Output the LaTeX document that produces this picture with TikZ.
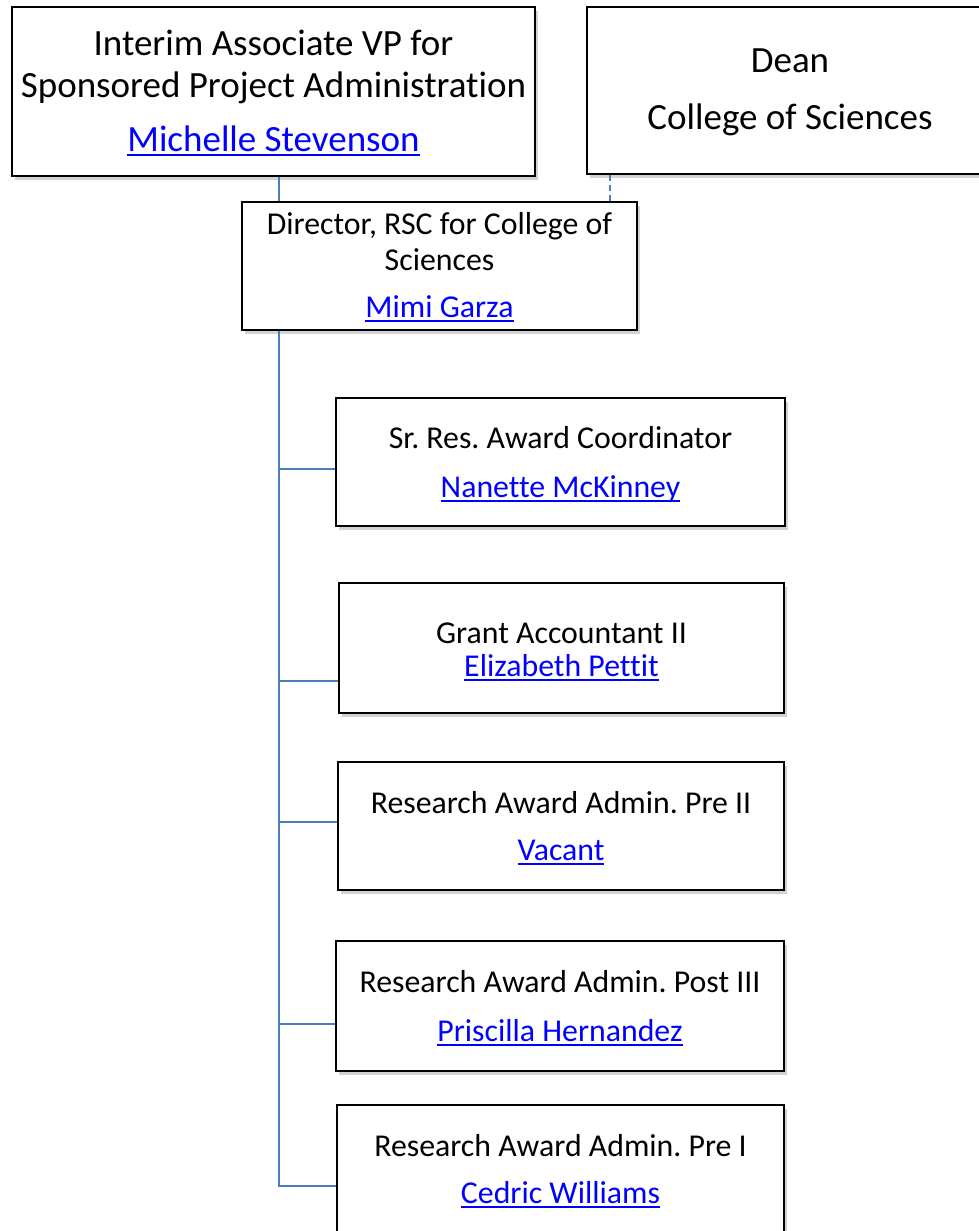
\documentclass[tikz,border=0pt]{standalone}
\usepackage{fontspec}
\setmainfont{Carlito}[Ligatures={NoCommon}]
\usetikzlibrary{shadows}
\frenchspacing
\definecolor{connblue}{RGB}{74,126,187}
\definecolor{linkblue}{RGB}{0,0,255}
\newsavebox{\lkbox}
\newcommand{\lk}[1]{\sbox{\lkbox}{\textcolor{linkblue}{#1}}\textcolor{linkblue}{\rlap{\rule[-4.6pt]{\wd\lkbox}{1.7pt}}}\usebox{\lkbox}}
\begin{document}
\begin{tikzpicture}[x=1pt,y=-1pt,
 orgbox/.style={draw=black, line width=1.6pt, fill=white, inner sep=0pt,
   drop shadow={shadow xshift=3pt,shadow yshift=-4pt,opacity=0.35}},
 big/.style={font=\fontsize{37}{44}\selectfont, anchor=base, inner sep=0pt},
 small/.style={font=\fontsize{31.8}{38}\selectfont, anchor=base, inner sep=0pt},
 conn/.style={draw=connblue, line width=2.2pt}]
\useasboundingbox[fill=white] (0,0) rectangle (978,1231);

% boxes
\node[orgbox, minimum width=523pt, minimum height=169pt] (vp) at (273.5,91.5) {};
\node[orgbox, minimum width=408pt, minimum height=167pt] (dean) at (791,90.5) {};
\node[orgbox, minimum width=395pt, minimum height=128pt] (dir) at (439.5,266) {};
\node[orgbox, minimum width=449pt, minimum height=128pt] (sr) at (560.5,462) {};
\node[orgbox, minimum width=445pt, minimum height=130pt] (ga) at (561.5,648) {};
\node[orgbox, minimum width=446pt, minimum height=128pt] (pre2) at (561,826) {};
\node[orgbox, minimum width=448pt, minimum height=130pt] (post3) at (560,1006) {};
\node[orgbox, minimum width=447pt, minimum height=145pt] (pre1) at (560.5,1177.5) {};

% texts
\node[big] (vpa) at (273.5,56) {Interim Associate VP for};
\node[big] (vpb) at (273.5,97) {Sponsored Project Administration};
\node[big] (vpc) at (273.5,151) {\lk{Michelle Stevenson}};
\node[big] (deana) at (790,73) {Dean};
\node[big] (deanb) at (790,129) {College of Sciences};
\node[small] (dira) at (439.5,234) {Director, RSC for College of};
\node[small] (dirb) at (439.5,270) {Sciences};
\node[small] (dirc) at (439.5,317) {\lk{Mimi Garza}};
\node[small] (sra) at (560.5,448) {Sr. Res. Award Coordinator};
\node[small] (srb) at (560.5,497) {\lk{Nanette McKinney}};
\node[small] (gaa) at (561.5,643) {Grant Accountant II};
\node[small] (gab) at (561.5,676) {\lk{Elizabeth Pettit}};
\node[small] (pre2a) at (561,813) {Research Award Admin. Pre II};
\node[small] (pre2b) at (561,860) {\lk{Vacant}};
\node[small] (post3a) at (560,992) {Research Award Admin. Post III};
\node[small] (post3b) at (560,1041) {\lk{Priscilla Hernandez}};
\node[small] (pre1a) at (560.5,1156) {Research Award Admin. Pre I};
\node[small] (pre1b) at (560.5,1203) {\lk{Cedric Williams}};

% connector coordinates
\coordinate (tk) at (279,0);
\coordinate (dk) at (610,0);
\coordinate (y1) at (0,469);
\coordinate (y2) at (0,681);
\coordinate (y3) at (0,822);
\coordinate (y4) at (0,1024);
\coordinate (y5) at (0,1186);

% connectors
\draw[conn] (vp.south -| tk) -- (dir.north -| tk);
\draw[conn, dash pattern=on 6pt off 4pt] (dean.south -| dk) -- (dir.north -| dk);
\draw[conn] (dir.south -| tk) -- (tk |- y5) -- (pre1.west |- y5);
\draw[conn] (tk |- y1) -- (sr.west |- y1);
\draw[conn] (tk |- y2) -- (ga.west |- y2);
\draw[conn] (tk |- y3) -- (pre2.west |- y3);
\draw[conn] (tk |- y4) -- (post3.west |- y4);
\end{tikzpicture}
\end{document}
